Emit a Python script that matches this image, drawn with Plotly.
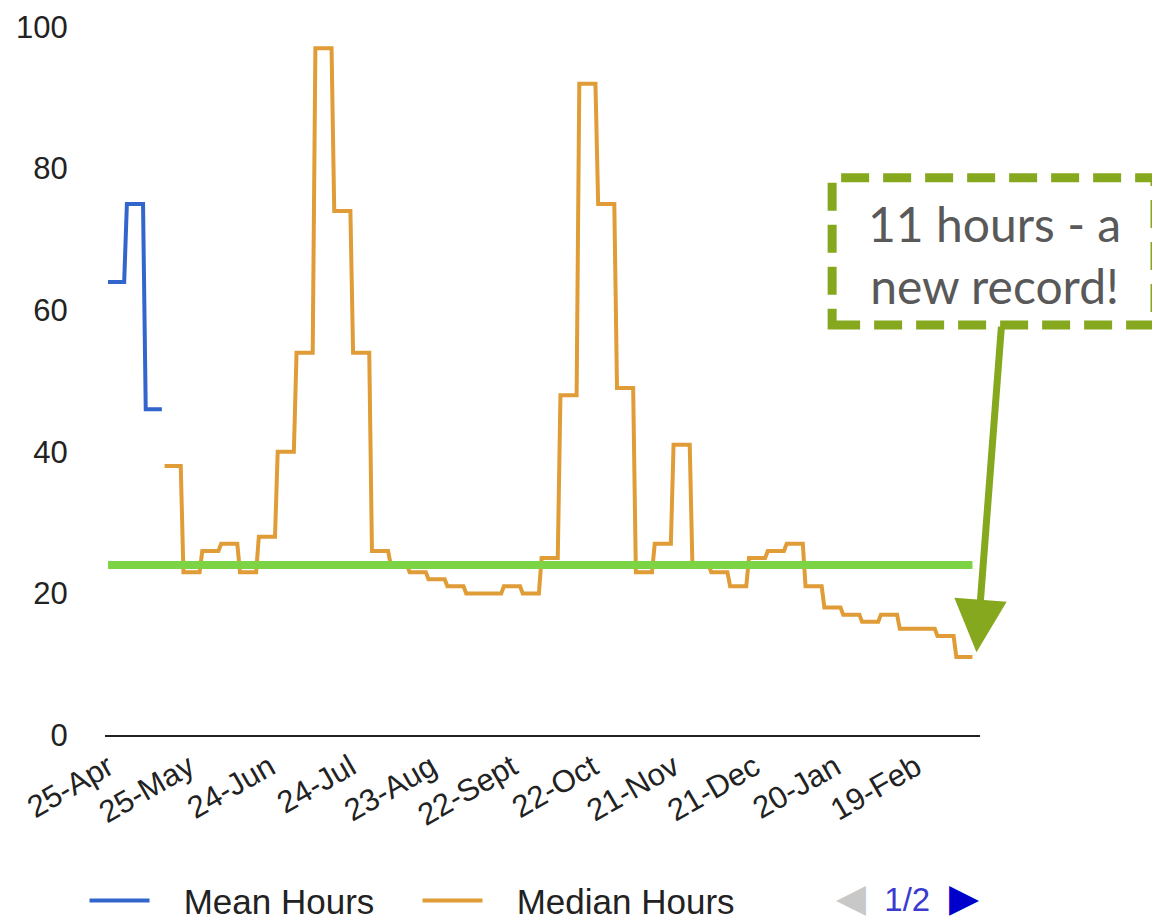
import pandas as pd
import plotly.graph_objects as go

# weekly data, first week starting 25-Apr
week_start = "2017-04-25"
n_weeks = 46

mean_hours = [64, 75, 46] + [None] * 43
median_hours = [None, None, None,
                38, 23, 26, 27, 23, 28, 40, 54, 97, 74, 54, 26, 24, 23, 22, 21,
                20, 20, 21, 20, 25, 48, 92, 75, 49, 23, 27, 41, 24, 23, 21, 25,
                26, 27, 21, 18, 17, 16, 17, 15, 15, 14, 11]
target_hours = 24

tick_dates = ["2017-04-25", "2017-05-25", "2017-06-24", "2017-07-24", "2017-08-23",
              "2017-09-22", "2017-10-22", "2017-11-21", "2017-12-21", "2018-01-20",
              "2018-02-19"]
tick_labels = ["25-Apr", "25-May", "24-Jun", "24-Jul", "23-Aug", "22-Sept",
               "22-Oct", "21-Nov", "21-Dec", "20-Jan", "19-Feb"]

weeks = pd.date_range(week_start, periods=n_weeks, freq="7D")
week_len = pd.Timedelta(days=6)


def steps(values):
    # each weekly value is held flat over its week
    xs, ys = [], []
    for d, v in zip(weeks, values):
        if v is None:
            continue
        xs += [d, d + week_len]
        ys += [v, v]
    return xs, ys


pad = "\u00a0" * 3  # gap between legend line and its label

fig = go.Figure()

mx, my = steps(mean_hours)
fig.add_trace(go.Scatter(x=mx, y=my, mode="lines", name=pad + "Mean Hours",
                         line=dict(color="#3366CC", width=4)))

dx, dy = steps(median_hours)
fig.add_trace(go.Scatter(x=dx, y=dy, mode="lines", name=pad + "Median Hours",
                         line=dict(color="#E09C36", width=4)))

fig.add_trace(go.Scatter(x=[weeks[0], weeks[-1] + week_len],
                         y=[target_hours, target_hours], mode="lines",
                         line=dict(color="#7CD344", width=8), showlegend=False))

green = "#86A81E"

# dashed call-out box
fig.add_shape(type="rect", xref="paper", yref="paper",
              x0=0.831, x1=1.2, y0=0.579, y1=0.787,
              line=dict(color=green, width=9, dash="28px,14px"))

fig.add_annotation(xref="paper", yref="paper", x=1.017, y=0.678,
                   xanchor="center", yanchor="middle",
                   text="11 hours - a<br>new record!", showarrow=False,
                   font=dict(family="Lato", size=48, color="#595959"))

fig.add_annotation(xref="paper", yref="paper", x=0.996, y=0.117, text="",
                   showarrow=True, ax=25, ay=-327, arrowhead=2, arrowsize=1.5,
                   arrowwidth=7, arrowcolor=green)

# legend pager
fig.add_annotation(xref="paper", yref="paper", x=0.9166, y=-0.229,
                   xanchor="center", yanchor="middle",
                   text="<span style='color:#C8C8C8;font-size:39px'>◀</span>\u00a0\u00a0"
                        "<span style='color:#3B3BD0'>1/2</span>\u00a0\u00a0"
                        "<span style='color:#0000CC;font-size:39px'>▶</span>",
                   showarrow=False, font=dict(family="Liberation Sans", size=33))

fig.update_layout(
    width=1152, height=912,
    margin=dict(l=97, r=180, t=19, b=185, autoexpand=False),
    plot_bgcolor="white", paper_bgcolor="white",
    font=dict(family="Liberation Sans", size=31, color="#222222"),
    legend=dict(orientation="h", x=-0.0234, y=-0.234, xanchor="left",
                yanchor="middle", font=dict(size=35), itemwidth=60,
                entrywidth=258, entrywidthmode="pixels"),
    xaxis=dict(range=["2017-04-23 21:00", "2018-03-14 19:00"],
               tickvals=tick_dates, ticktext=tick_labels, tickangle=-30,
               showgrid=False, zeroline=False, showline=True,
               linecolor="#222222", linewidth=2,
               tickfont=dict(size=31)),
    yaxis=dict(range=[0, 100], tickvals=[0, 20, 40, 60, 80, 100],
               showgrid=False, zeroline=False, ticks="outside", ticklen=30,
               tickcolor="rgba(0,0,0,0)"),
)

fig.write_html("out.html")
